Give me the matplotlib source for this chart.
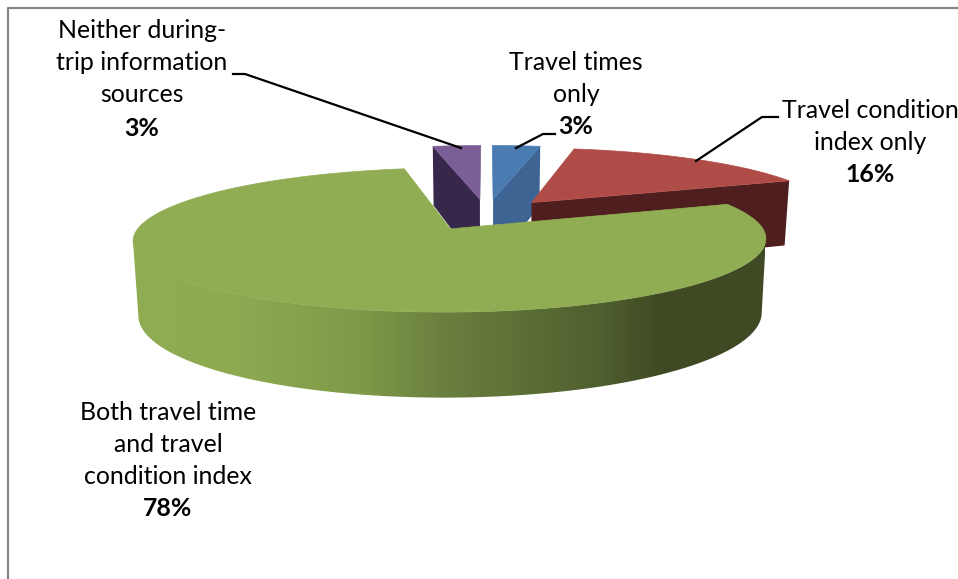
import numpy as np
import matplotlib
matplotlib.use("Agg")
import matplotlib.pyplot as plt
from matplotlib.colors import LinearSegmentedColormap
from matplotlib.patches import Polygon

# slices, clockwise from the top of the pie
labels = [
    ["Travel times", "only"],
    ["Travel condition", "index only"],
    ["Both travel time", "and travel", "condition index"],
    ["Neither during-", "trip information", "sources"],
]
shares = [3, 16, 78, 3]

top_colors = ["#4a7cb2", "#b04c48", "#91ad54", "#7a5e95"]
wall_colors = ["#3e6493", "#4e1f1e", "#6b823c", "#37274a"]

# label centre x, y of first line
label_pos = [(576, 62), (870.5, 110), (168, 412), (142, 31)]
line_gap = 32

leaders = [
    [(555, 134), (543, 134), (516, 148)],
    [(778, 117), (762, 117), (696, 161)],
    None,
    [(233, 74), (245, 74), (461, 148)],
]

# view of the tilted pie, in pixels
CX, CY = 486.5, 214.5
A, B = 302.7, 66
K = 0.15
DEPTH = 70
SHRINK = 0.985
EXPLODE = 0.24


def project(u, v, low=False):
    w = 1 + K * v
    x = A * u / w
    y = CY - B * v / w
    if low:
        return CX + x * SHRINK, y + DEPTH / w
    return CX + x, y


fig = plt.figure(figsize=(9.58, 5.79), dpi=100)
ax = fig.add_axes([0, 0, 1, 1])
ax.set_xlim(0, 958)
ax.set_ylim(579, 0)
ax.axis("off")

# chart frame, runs off the right and bottom
ax.plot([8.5, 8.5, 958], [579, 7.5, 7.5], color="#868686", lw=1.6, solid_capstyle="butt")

edges = 90 - np.cumsum([0] + shares) * 3.6
slices = []
for i in range(len(shares)):
    a0, a1 = edges[i], edges[i + 1]
    mid = np.radians((a0 + a1) / 2)
    ou, ov = EXPLODE * np.cos(mid), EXPLODE * np.sin(mid)
    phi = np.radians(np.linspace(a0, a1, 400))
    slices.append((ou, ov, ou + np.cos(phi), ov + np.sin(phi)))


def draw_wall(i, edge):
    ou, ov, us, vs = slices[i]
    u, v = us[edge], vs[edge]
    pts = [project(ou, ov), project(u, v), project(u, v, True), project(ou, ov, True)]
    ax.add_patch(Polygon(pts, closed=True, fc=wall_colors[i], ec="none", zorder=2))


def draw_top(i, z):
    ou, ov, us, vs = slices[i]
    pts = [project(ou, ov)] + [project(u, v) for u, v in zip(us, vs)]
    ax.add_patch(Polygon(pts, closed=True, fc=top_colors[i], ec=top_colors[i], lw=0.5, zorder=z))


# back slices first, green last
draw_wall(0, -1)
draw_top(0, 3)
draw_wall(3, 0)
draw_top(3, 3)
draw_wall(1, -1)
draw_top(1, 3)

# outer wall of the big slice, from its right extreme round the front to its left extreme
ou, ov, us, vs = slices[2]
upper = [project(u, v) for u, v in zip(us, vs)]
lower = [project(u, v, True) for u, v in zip(us, vs)]
xs_up = np.array([p[0] for p in upper])
right, left = int(np.argmax(xs_up)), int(np.argmin(xs_up))
side = Polygon(upper[right:left + 1] + lower[right:left + 1][::-1], closed=True, fc="none", ec="none", zorder=4)
ax.add_patch(side)
stops = [
    (0.0, "#91ad54"),
    (0.14, "#8fab52"),
    (0.36, "#7f9a48"),
    (0.486, "#6b803f"),
    (0.644, "#5a6c35"),
    (0.739, "#4f5f2e"),
    (0.834, "#404b24"),
    (1.0, "#3f4a24"),
]
cmap = LinearSegmentedColormap.from_list("side", stops)
grad = ax.imshow(
    np.linspace(0, 1, 256).reshape(1, -1),
    cmap=cmap,
    extent=(133, 765, 420, 150),
    aspect="auto",
    zorder=5,
)
grad.set_clip_path(side)
ax.set_xlim(0, 958)
ax.set_ylim(579, 0)
draw_top(2, 6)

plt.rcParams["font.family"] = ["Lato", "DejaVu Sans"]
for i, lines in enumerate(labels):
    x, y = label_pos[i]
    for n, line in enumerate(lines):
        ax.text(x, y + n * line_gap, line, ha="center", va="center", fontsize=17.9, color="black", zorder=8)
    ax.text(x, y + len(lines) * line_gap + 1, "%d%%" % shares[i], ha="center", va="center",
            fontsize=17.9, fontweight="bold", color="black", zorder=8)
    if leaders[i]:
        xs, ys = zip(*leaders[i])
        ax.plot(xs, ys, color="black", lw=1.6, zorder=8)

fig.savefig("out.png", dpi=100, facecolor="white")
